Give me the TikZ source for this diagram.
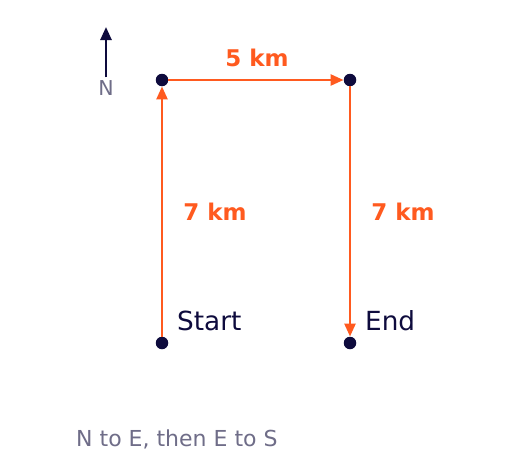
\documentclass[tikz,border=0pt]{standalone}
\usepackage{fontspec}
\setmainfont{DejaVu Sans}
\usetikzlibrary{arrows.meta}
\definecolor{route}{HTML}{FF5A1F}
\definecolor{ink}{HTML}{0E0B3D}
\definecolor{muted}{HTML}{6F6D88}
\tikzset{
  dot/.style={circle,fill=ink,inner sep=0pt,minimum size=12.5pt},
  leg/.style={route,line width=2.5pt,-{Triangle[length=13pt,width=11pt]}},
  dist/.style={text=route,font=\fontsize{23}{26}\selectfont\bfseries},
  lbl/.style={text=ink,font=\fontsize{26.3}{29}\selectfont,anchor=west,inner sep=0pt},
  note/.style={text=muted,font=\fontsize{22}{24}\selectfont,inner sep=0pt},
}
\begin{document}
\begin{tikzpicture}[x=1pt,y=-1pt]
\useasboundingbox[fill=white] (0,0) rectangle (520,458);
\node[dot] (s) at (162,343) {};
\node[dot] (a) at (162,80) {};
\node[dot] (b) at (350,80) {};
\node[dot] (e) at (350,343) {};
\draw[leg] (s) -- (a);
\draw[leg] (a) -- (b);
\draw[leg] (b) -- (e);
\node[dist] (d1) at (257,58) {5 km};
\node[dist] (d2) at (215,212) {7 km};
\node[dist] (d3) at (403,212) {7 km};
\node[lbl] (ls) at (177,321) {Start};
\node[lbl] (le) at (365,321) {End};
\node[note,anchor=west] (cap) at (76,439) {N to E, then E to S};
\node[note,font=\fontsize{20.5}{22}\selectfont] (nl) at (106,88) {N};
\coordinate (nt) at (106,27);
\draw[ink,line width=2.5pt,-{Triangle[length=13pt,width=11pt]}] (nl.north) ++(0,-3) -- (nt);
\end{tikzpicture}
\end{document}
